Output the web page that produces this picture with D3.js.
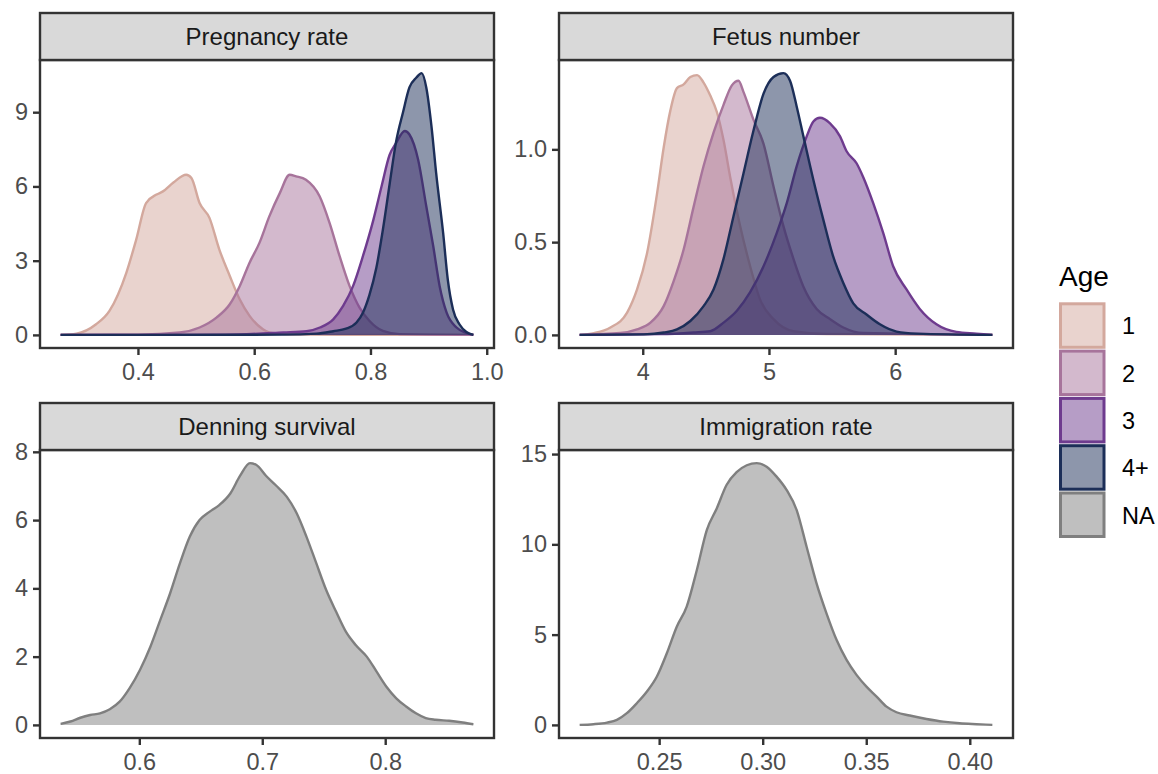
<!DOCTYPE html>
<html>
<head>
<meta charset="utf-8">
<script src="https://cdn.jsdelivr.net/npm/d3@7"></script>
<style>
  body { margin: 0; background: #fff; }
  text { font-family: "Liberation Sans", Arial, sans-serif; }
</style>
</head>
<body>
<script>
// facet titles, legend groups and colours
const panelTitles = ["Pregnancy rate", "Fetus number", "Denning survival", "Immigration rate"];
const ageGroups = ["1", "2", "3", "4+", "NA"];
const ageColors = ["#D3A89D", "#A7749B", "#6E3B8E", "#1C2E58", "#7F7F7F"];

// density curves: [value, density]
const pregAge1 = [[0.267,0],[0.294,0.05],[0.328,0.43],[0.351,0.97],[0.380,2.51],[0.397,3.85],[0.414,5.33],
  [0.432,5.67],[0.443,5.80],[0.461,6.16],[0.483,6.47],[0.492,6.34],[0.506,5.33],[0.523,4.73],[0.540,3.45],
  [0.558,2.38],[0.575,1.44],[0.592,0.77],[0.615,0.23],[0.638,0.05],[0.678,0.01],[0.75,0],[0.977,0]];
const pregAge2 = [[0.267,0],[0.40,0.01],[0.472,0.1],[0.506,0.30],[0.535,0.70],[0.558,1.24],[0.575,1.97],
  [0.592,2.92],[0.609,3.72],[0.626,4.79],[0.644,5.73],[0.661,6.47],[0.672,6.41],[0.689,6.27],[0.7125,5.60],
  [0.7296,4.53],[0.7468,3.19],[0.764,1.98],[0.7812,1.10],[0.7984,0.56],[0.8213,0.16],[0.85,0.03],[0.977,0]];
const pregAge3 = [[0.267,0],[0.55,0.01],[0.650,0.1],[0.690,0.15],[0.713,0.30],[0.736,0.63],[0.753,1.17],
  [0.770,1.97],[0.787,3.18],[0.805,4.65],[0.819,6.00],[0.833,7.28],[0.844,7.75],[0.859,8.24],[0.867,8.1],
  [0.882,7.08],[0.896,5.20],[0.908,3.58],[0.919,1.97],[0.931,0.90],[0.948,0.30],[0.965,0.08],[0.977,0]];
const pregAge4 = [[0.267,0],[0.65,0.01],[0.707,0.05],[0.736,0.15],[0.758,0.25],[0.776,0.5],[0.787,0.9],
  [0.798,1.6],[0.810,2.7],[0.821,4.2],[0.833,6.1],[0.844,7.8],[0.856,9.0],[0.867,10.0],[0.879,10.4],
  [0.888,10.58],[0.896,10.0],[0.905,8.42],[0.913,6.54],[0.925,4.12],[0.933,2.24],[0.942,1.03],[0.953,0.43],
  [0.965,0.12],[0.977,0]];

const fetusAge1 = [[3.50,0],[3.613,0.01],[3.744,0.04],[3.876,0.12],[3.955,0.245],[4.034,0.44],[4.113,0.76],
  [4.166,1.01],[4.219,1.21],[4.271,1.33],[4.324,1.35],[4.377,1.39],[4.430,1.40],[4.482,1.36],[4.535,1.29],
  [4.588,1.20],[4.640,1.05],[4.693,0.85],[4.772,0.585],[4.851,0.37],[4.930,0.19],[5.036,0.085],[5.194,0.02],
  [5.457,0.005],[6.77,0]];
const fetusAge2 = [[3.50,0],[3.823,0.01],[3.955,0.03],[4.061,0.066],[4.166,0.155],[4.245,0.29],[4.324,0.46],
  [4.403,0.69],[4.482,0.91],[4.561,1.09],[4.640,1.24],[4.706,1.345],[4.759,1.37],[4.798,1.31],[4.877,1.16],
  [4.957,1.03],[5.036,0.80],[5.115,0.585],[5.194,0.41],[5.273,0.26],[5.378,0.14],[5.484,0.085],[5.589,0.04],
  [5.747,0.01],[6.77,0]];
const fetusAge3 = [[3.50,0],[4.140,0.004],[4.403,0.013],[4.535,0.02],[4.640,0.066],[4.746,0.13],[4.851,0.23],
  [4.957,0.37],[5.062,0.55],[5.141,0.71],[5.220,0.91],[5.299,1.07],[5.352,1.15],[5.404,1.17],[5.484,1.14],
  [5.563,1.07],[5.615,0.99],[5.694,0.925],[5.747,0.85],[5.826,0.71],[5.905,0.55],[5.984,0.37],[6.090,0.245],
  [6.195,0.14],[6.327,0.057],[6.485,0.016],[6.643,0.007],[6.77,0]];
const fetusAge4 = [[3.50,0],[4.008,0.003],[4.166,0.013],[4.271,0.03],[4.377,0.075],[4.482,0.155],[4.561,0.245],
  [4.640,0.41],[4.719,0.64],[4.798,0.87],[4.877,1.10],[4.957,1.30],[5.036,1.39],[5.115,1.411],[5.167,1.37],
  [5.220,1.23],[5.273,1.07],[5.352,0.835],[5.431,0.62],[5.510,0.42],[5.589,0.28],[5.668,0.17],[5.773,0.11],
  [5.879,0.057],[6.011,0.018],[6.169,0.007],[6.77,0]];

const denning = [[0.536,0.03],[0.544,0.1],[0.552,0.21],[0.560,0.29],[0.568,0.34],[0.576,0.46],[0.584,0.68],
  [0.592,1.07],[0.6005,1.61],[0.609,2.29],[0.617,3.07],[0.625,3.85],[0.633,4.73],[0.641,5.51],[0.649,6.0],
  [0.657,6.24],[0.665,6.44],[0.674,6.78],[0.682,7.30],[0.690,7.67],[0.695,7.62],[0.703,7.30],[0.711,7.02],
  [0.720,6.68],[0.728,6.20],[0.736,5.51],[0.744,4.73],[0.752,3.95],[0.760,3.32],[0.768,2.73],[0.776,2.34],
  [0.785,2.0],[0.793,1.56],[0.801,1.12],[0.809,0.78],[0.817,0.54],[0.825,0.34],[0.833,0.2],[0.841,0.15],
  [0.852,0.12],[0.863,0.07],[0.8717,0.02]];

const immigration = [[0.2116,0],[0.2183,0.04],[0.2248,0.13],[0.2296,0.28],[0.2344,0.65],[0.2392,1.2],
  [0.2441,1.85],[0.2489,2.68],[0.2537,3.97],[0.2585,5.44],[0.2633,6.55],[0.2682,8.58],[0.2730,10.79],
  [0.2778,11.99],[0.2826,13.3],[0.2874,14.0],[0.2923,14.38],[0.2971,14.5],[0.3019,14.3],[0.3067,13.75],
  [0.3116,13.0],[0.3164,11.9],[0.3212,9.87],[0.3260,7.84],[0.3308,6.18],[0.3357,4.70],[0.3405,3.60],
  [0.3453,2.77],[0.3501,2.12],[0.3550,1.57],[0.3598,1.01],[0.3646,0.70],[0.3710,0.52],[0.3791,0.33],
  [0.3871,0.18],[0.3951,0.09],[0.4032,0.04],[0.4109,0]];

// axis ticks
const pregXTicks = [0.4, 0.6, 0.8, 1.0];
const pregYTicks = [0, 3, 6, 9];
const fetusXTicks = [4, 5, 6];
const fetusYTicks = [0, 0.5, 1.0];
const denXTicks = [0.6, 0.7, 0.8];
const denYTicks = [0, 2, 4, 6, 8];
const immXTicks = [0.25, 0.30, 0.35, 0.40];
const immYTicks = [0, 5, 10, 15];

const panels = [
  { title: panelTitles[0], series: [pregAge1, pregAge2, pregAge3, pregAge4], groups: [0, 1, 2, 3],
    xTicks: pregXTicks, yTicks: pregYTicks, xFmt: ".1f", yFmt: "d" },
  { title: panelTitles[1], series: [fetusAge1, fetusAge2, fetusAge3, fetusAge4], groups: [0, 1, 2, 3],
    xTicks: fetusXTicks, yTicks: fetusYTicks, xFmt: "d", yFmt: ".1f" },
  { title: panelTitles[2], series: [denning], groups: [4],
    xTicks: denXTicks, yTicks: denYTicks, xFmt: ".1f", yFmt: "d" },
  { title: panelTitles[3], series: [immigration], groups: [4],
    xTicks: immXTicks, yTicks: immYTicks, xFmt: ".2f", yFmt: "d" },
];

const WIDTH = 1158, HEIGHT = 774;
const colLeft = [40, 559];
const rowTop = [13, 403];
const panelW = 454, panelH = 288, stripH = 47;
const INK = "#333333";

const svg = d3.select("body").append("svg")
  .attr("width", WIDTH)
  .attr("height", HEIGHT);

panels.forEach((p, i) => {
  const left = colLeft[i % 2];
  const top = rowTop[Math.floor(i / 2)] + stripH;
  const g = svg.append("g").attr("transform", `translate(${left},${top})`);

  // ggplot-style 5% expansion
  const allPts = p.series.flat();
  const [x0, x1] = d3.extent(allPts, d => d[0]);
  const ymax = d3.max(allPts, d => d[1]);
  const xpad = (x1 - x0) * 0.05;
  const x = d3.scaleLinear().domain([x0 - xpad, x1 + xpad]).range([0, panelW]);
  const y = d3.scaleLinear().domain([-0.05 * ymax, 1.05 * ymax]).range([panelH, 0]);

  const area = d3.area()
    .x(d => x(d[0]))
    .y0(y(0))
    .y1(d => y(d[1]))
    .curve(d3.curveMonotoneX);
  const line = d3.line()
    .x(d => x(d[0]))
    .y(d => y(d[1]))
    .curve(d3.curveMonotoneX);

  p.series.forEach((s, k) => {
    const col = ageColors[p.groups[k]];
    g.append("path")
      .attr("d", area(s))
      .attr("fill", col)
      .attr("fill-opacity", 0.5);
    g.append("path")
      .attr("d", line(s))
      .attr("fill", "none")
      .attr("stroke", col)
      .attr("stroke-width", 2.4)
      .attr("stroke-linejoin", "round");
  });

  // axes
  const xAxis = g.append("g")
    .attr("transform", `translate(0,${panelH})`)
    .call(d3.axisBottom(x).tickValues(p.xTicks).tickFormat(d3.format(p.xFmt)).tickSize(7).tickPadding(8));
  const yAxis = g.append("g")
    .call(d3.axisLeft(y).tickValues(p.yTicks).tickFormat(d3.format(p.yFmt)).tickSize(7).tickPadding(5));
  [xAxis, yAxis].forEach(a => {
    a.select(".domain").remove();
    a.attr("font-size", 23.5).attr("font-family", null);
    a.selectAll("line").attr("stroke", INK).attr("stroke-width", 2.4);
    a.selectAll("text").attr("fill", "#4D4D4D");
  });

  // panel border
  g.append("rect")
    .attr("width", panelW)
    .attr("height", panelH)
    .attr("fill", "none")
    .attr("stroke", INK)
    .attr("stroke-width", 2.4);

  // strip
  g.append("rect")
    .attr("y", -stripH)
    .attr("width", panelW)
    .attr("height", stripH)
    .attr("fill", "#D9D9D9")
    .attr("stroke", INK)
    .attr("stroke-width", 2.4);
  g.append("text")
    .attr("x", panelW / 2)
    .attr("y", -stripH / 2 + 8.5)
    .attr("text-anchor", "middle")
    .attr("font-size", 24)
    .attr("fill", "#1A1A1A")
    .text(p.title);
});

// legend
const legend = svg.append("g").attr("transform", "translate(1059,0)");
legend.append("text")
  .attr("x", 0)
  .attr("y", 286)
  .attr("font-size", 28)
  .attr("fill", "#000")
  .text("Age");

const keyY = d3.scaleBand().domain(ageGroups).range([302.3, 302.3 + 47.3 * ageGroups.length]);
ageGroups.forEach((a, i) => {
  legend.append("rect")
    .attr("x", 1.5)
    .attr("y", keyY(a) + 1.5)
    .attr("width", 43.5)
    .attr("height", keyY.bandwidth() - 3.8)
    .attr("fill", ageColors[i])
    .attr("fill-opacity", 0.5)
    .attr("stroke", ageColors[i])
    .attr("stroke-width", 3);
  legend.append("text")
    .attr("x", 63)
    .attr("y", keyY(a) + keyY.bandwidth() / 2 + 8.5)
    .attr("font-size", 23.5)
    .attr("fill", "#000")
    .text(a);
});
</script>
</body>
</html>
